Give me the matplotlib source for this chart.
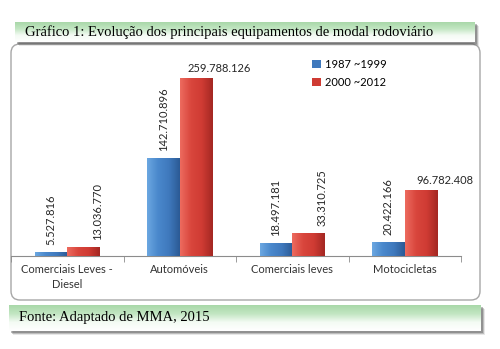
import matplotlib

matplotlib.use("Agg")

import matplotlib.pyplot as plt
import numpy as np
from matplotlib.colors import LinearSegmentedColormap
from matplotlib.patches import FancyBboxPatch, Rectangle

# data
categories = ["Comerciais Leves -\nDiesel", "Automóveis", "Comerciais leves", "Motocicletas"]
series_names = ["1987 ~1999", "2000 ~2012"]
values_1987_1999 = [5527816, 142710896, 18497181, 20422166]
values_2000_2012 = [13036770, 259788126, 33310725, 96782408]
title = "Gráfico 1: Evolução dos principais equipamentos de modal rodoviário"
source = "Fonte: Adaptado de MMA, 2015"

W, H = 500, 349
BLUE = ["#6aa6e0", "#4a88cc", "#3f79bd", "#2c5b96"]
RED = ["#ec6a5e", "#d9463d", "#cf3b33", "#a52823"]
LABEL_FONT = ["Lato", "DejaVu Sans"]


def fmt(v):
    return f"{v:,}".replace(",", ".")


def green_band(ax, x0, y0, x1, y1):
    # soft drop shadow then the green-to-white gradient
    for off, a in [(4, 0.12), (3, 0.25), (2, 0.35)]:
        ax.add_patch(Rectangle((x0 + off, y0 + off), x1 - x0, y1 - y0,
                               facecolor="#404040", alpha=a, edgecolor="none", zorder=1))
    grad = LinearSegmentedColormap.from_list("g", ["#a9d8a9", "#c2e6c2", "#f4fbf4", "#ffffff"])
    ax.imshow(np.linspace(0, 1, 64).reshape(-1, 1), cmap=grad, aspect="auto",
              extent=(x0, x1, y1, y0), origin="upper", zorder=2)


def gradient_bars(ax, bars, colors):
    cmap = LinearSegmentedColormap.from_list("b", colors)
    grad = np.linspace(0, 1, 32).reshape(1, -1)
    for b in bars:
        x, y = b.get_x(), b.get_y()
        w, h = b.get_width(), b.get_height()
        im = ax.imshow(grad, cmap=cmap, aspect="auto", extent=(x, x + w, y, y + h),
                       origin="lower", zorder=3)
        im.set_clip_path(b)


fig = plt.figure(figsize=(W / 100, H / 100), dpi=100)

bg = fig.add_axes([0, 0, 1, 1])
bg.set_xlim(0, W)
bg.set_ylim(H, 0)
bg.axis("off")

# chart frame
bg.add_patch(FancyBboxPatch((11, 44), 469, 256, boxstyle="round,pad=0,rounding_size=9",
                            facecolor="white", edgecolor="#a6a6a6", linewidth=1.0, zorder=1))
green_band(bg, 15, 22, 475, 42)
bg.text(25, 32.5, title, family=["Liberation Serif", "DejaVu Serif"], fontsize=10.5,
        va="center", ha="left", color="black", zorder=5)
green_band(bg, 9, 305, 481, 331)
bg.text(19, 318, source, family=["Liberation Serif", "DejaVu Serif"], fontsize=10.5,
        va="center", ha="left", color="black", zorder=5)

# bar chart
ax = fig.add_axes([11 / W, 1 - 256 / H, 450 / W, (256 - 50) / H])
ax.patch.set_alpha(0)
x = np.arange(len(categories))
bw = 0.29
top = max(values_2000_2012) * 1.157

bars_a = ax.bar(x - bw / 2, values_1987_1999, bw, color=BLUE[1], edgecolor="none", zorder=2)
bars_b = ax.bar(x + bw / 2, values_2000_2012, bw, color=RED[1], edgecolor="none", zorder=2)
gradient_bars(ax, bars_a, BLUE)
gradient_bars(ax, bars_b, RED)

ax.set_xlim(-0.5, len(categories) - 0.5)
ax.set_ylim(0, top)

# value labels: the two tallest red ones sit flat, the rest are vertical
flat = {1, 3}
for i, b in enumerate(bars_a):
    ax.annotate(fmt(values_1987_1999[i]), (b.get_x() + b.get_width() / 2, b.get_height()),
                xytext=(0, 5), textcoords="offset points", rotation=90, ha="center",
                va="bottom", fontsize=8, family=LABEL_FONT, color="#262626")
for i, b in enumerate(bars_b):
    cx = b.get_x() + b.get_width() / 2
    if i in flat:
        ax.annotate(fmt(values_2000_2012[i]), (cx, b.get_height()), xytext=(17, 3),
                    textcoords="offset points", ha="center", va="bottom", fontsize=8,
                    family=LABEL_FONT, color="#262626")
    else:
        ax.annotate(fmt(values_2000_2012[i]), (cx, b.get_height()), xytext=(10, 5),
                    textcoords="offset points", rotation=90, ha="center", va="bottom",
                    fontsize=8, family=LABEL_FONT, color="#262626")

for s in ["left", "right", "top"]:
    ax.spines[s].set_visible(False)
ax.spines["bottom"].set_color("#8c8c8c")
ax.set_yticks([])
ax.set_xticks(x)
ax.set_xticklabels(categories, fontsize=8, family=LABEL_FONT, color="#333333",
                   linespacing=1.4)
ax.tick_params(axis="x", which="major", length=0, pad=6)
ax.set_xticks(np.arange(-0.5, len(categories)), minor=True)
ax.tick_params(axis="x", which="minor", length=4, color="#8c8c8c")

handles = [Rectangle((0, 0), 1, 1, facecolor=BLUE[2]), Rectangle((0, 0), 1, 1, facecolor=RED[2])]
fig.legend(handles, series_names, loc="upper left", bbox_to_anchor=(312 / W, 1 - 59 / H),
           frameon=False, prop={"family": LABEL_FONT, "size": 8},
           handlelength=0.8, handleheight=0.8, handletextpad=0.4, labelspacing=0.6,
           borderaxespad=0, borderpad=0)

fig.savefig("out.png", dpi=100)
